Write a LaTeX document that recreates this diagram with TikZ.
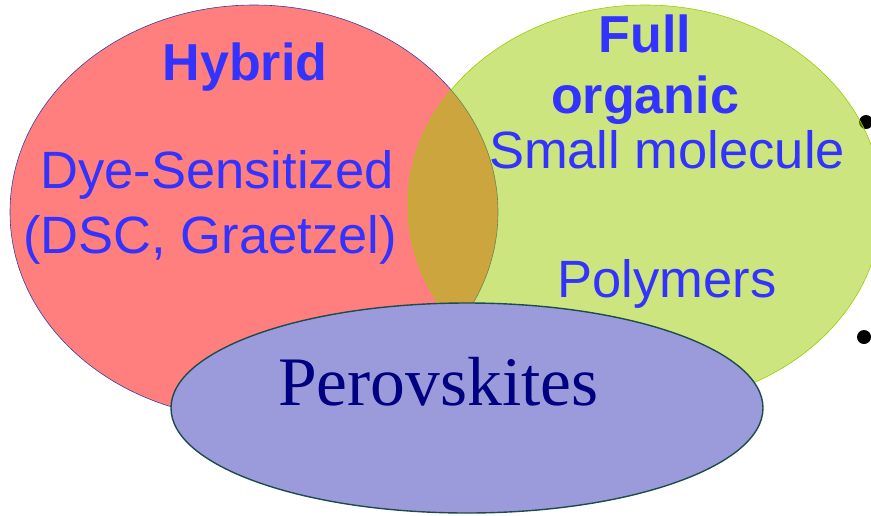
\documentclass[tikz,border=0pt]{standalone}
\usepackage{xcolor}
\usepackage{fontspec}
\setmainfont{Liberation Sans}
\newfontfamily\perovface{Liberation Serif}
\usepackage{tikz}
\usetikzlibrary{shapes.geometric,positioning}

\definecolor{hybridred}{RGB}{255,0,0}
\definecolor{hybridedge}{RGB}{60,60,160}
\definecolor{organicgreen}{RGB}{153,204,0}
\definecolor{perovblue}{RGB}{155,155,220}
\definecolor{perovedge}{RGB}{30,75,75}
\definecolor{labelblue}{RGB}{51,51,255}
\definecolor{navytext}{RGB}{0,0,128}

\begin{document}
\begin{tikzpicture}[x=1pt, y=-1pt,
    set/.style = {ellipse, inner sep=0pt},
    head/.style = {text=labelblue, font=\fontsize{52}{60}\selectfont\bfseries,
                   anchor=base, inner sep=0pt},
    item/.style = {text=labelblue, font=\fontsize{52.5}{60}\selectfont,
                   anchor=base, inner sep=0pt},
    bullet/.style = {circle, fill=black, inner sep=0pt, minimum size=14pt}]
    \useasboundingbox (0,0) rectangle (871,515);

    % bullets of the cut-off list
    \node[bullet] (b1) at (866,122) {};
    \node[bullet] (b2) at (864,337) {};

    % the three sets
    \node[set, minimum width=488pt, minimum height=414pt, fill=hybridred,
          fill opacity=0.5, draw=hybridedge, line width=0.6pt] (hyb) at (254,212) {};
    \node[set, minimum width=474pt, minimum height=400pt, fill=organicgreen,
          fill opacity=0.5, draw=organicgreen, line width=0.6pt] (org) at (645,205) {};
    \node[set, minimum width=592pt, minimum height=210pt, fill=perovblue,
          draw=perovedge, line width=1.4pt] (per) at (467,408) {};

    % labels
    \node[head] (hybrid) at (245,80) {Hybrid};
    \node[item] (dye) at (217,188) {Dye-Sensitized};
    \node[item, below=65pt of dye.base, anchor=base, xshift=-7pt] (dsc)
      {(DSC, Graetzel)};

    \node[head] (full) at (645,52) {Full};
    \node[head, below=61pt of full.base, anchor=base] (organic) {organic};
    \node[item] (small) at (667,168) {Small molecule};
    \node[item, below=129pt of small.base, anchor=base] (poly) {Polymers};

    \node[text=navytext, font=\perovface\fontsize{69.5}{80}\selectfont,
          anchor=base, inner sep=0pt] (perov) at (438.5,405) {Perovskites};
\end{tikzpicture}
\end{document}
